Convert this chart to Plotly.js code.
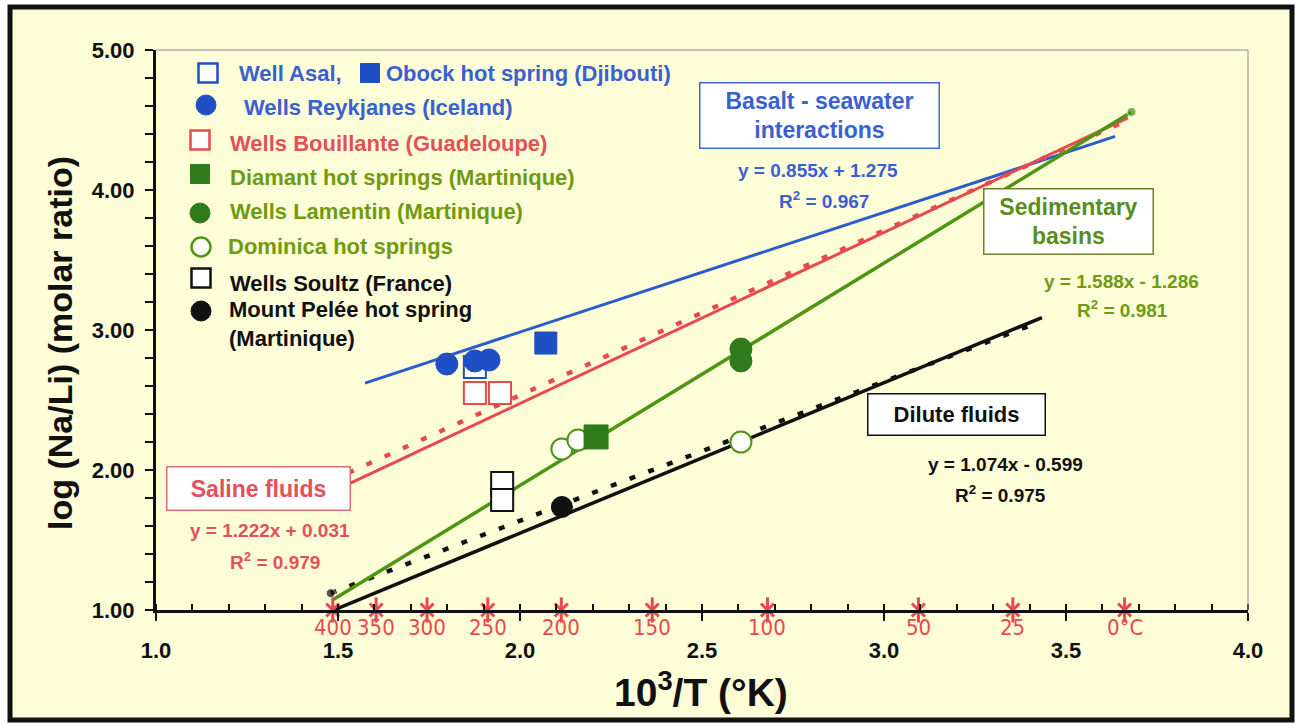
<!DOCTYPE html>
<html>
<head>
<meta charset="utf-8">
<script src="https://cdn.plot.ly/plotly-3.0.1.min.js"></script>
<style>
  html, body { margin: 0; padding: 0; background: #ffffff; }
  #chart { width: 1300px; height: 724px; }
</style>
</head>
<body>
<div id="chart"></div>
<script>
// Temperature scale shown along the 10^3/T axis (°C)
const tempC = [400, 350, 300, 250, 200, 150, 100, 50, 25, 0];
const tempLabels = ['400', '350', '300', '250', '200', '150', '100', '50', '25', '0°C'];

// Samples: 10^3/T (K^-1) and log(Na/Li)
const asalX = [1.876], asalY = [2.736];
const obockX = [2.071], obockY = [2.907];
const reykjanesX = [1.799, 1.876, 1.915], reykjanesY = [2.757, 2.779, 2.786];
const bouillanteX = [1.876, 1.945], bouillanteY = [2.55, 2.55];
const diamantX = [2.209], diamantY = [2.236];
const lamentinX = [2.607, 2.607], lamentinY = [2.864, 2.779];
const dominicaX = [2.115, 2.159, 2.607], dominicaY = [2.15, 2.214, 2.2];
const soultzX = [1.951, 1.951], soultzY = [1.907, 1.786];
const peleeX = [2.115], peleeY = [1.736];

// Regression lines: y = slope * x + intercept
const fitSlope = [0.855, 1.222, 1.588, 1.074];
const fitIntercept = [1.275, 0.031, -1.286, -0.599];
const fitR2 = [0.967, 0.979, 0.981, 0.975];
const fitXStart = [1.574, 1.505, 1.485, 1.49];
const fitXEnd = [3.635, 3.67, 3.68, 3.434];

// Na/Li geothermometer curves (dashed)
const salineThermoX = [1.478, 3.67], salineThermoY = [1.92, 4.50];
const diluteThermoX = [1.48, 3.43], diluteThermoY = [1.12, 3.06];

const axisFloor = 1.0;
const xRange = [1, 4], yRange = [1, 5];

// ---- styling ----
const FONT = 'Liberation Sans, Arial, Helvetica, sans-serif';
const NARROW = 'Liberation Sans Narrow, Arial Narrow, DejaVu Sans Condensed, sans-serif';
const BLUE = '#1f4fc4', BLUE_LINE = '#2b5ccc', BLUE_TXT = '#3a61cf';
const RED = '#e8484e', RED_TXT = '#e2505a';
const GREEN = '#2f7a1a', GREEN_LINE = '#4c9614', GREEN_TXT = '#6f9a12', GREEN_BOX = '#5c8c1c';
const BLACK = '#111111';
const BG = '#fdfdd8';

// pixel -> paper helpers for the plot area (x: 156..1248, y: 50..610)
const L = 156, R = 1248, TOP = 50, BOT = 610;
const px2x = p => (p - L) / (R - L);
const py2y = p => (BOT - p) / (BOT - TOP);
const data2x = v => (v - xRange[0]) / (xRange[1] - xRange[0]);

const tempX = tempC.map(t => 1000 / (t + 273.15));

function fitLine(i, color, width) {
  const xs = [fitXStart[i], fitXEnd[i]];
  return {
    x: xs, y: xs.map(x => fitSlope[i] * x + fitIntercept[i]),
    mode: 'lines', line: { color: color, width: width }, hoverinfo: 'skip', showlegend: false
  };
}
function eqText(i) {
  const b = fitIntercept[i];
  return 'y = ' + fitSlope[i].toFixed(3) + 'x ' + (b < 0 ? '- ' : '+ ') + Math.abs(b).toFixed(3);
}
function pts(x, y, symbol, size, fill, line, lw) {
  return {
    x: x, y: y, mode: 'markers', showlegend: false, hoverinfo: 'skip', cliponaxis: false,
    marker: { symbol: symbol, size: size, color: fill, line: { color: line, width: lw } }
  };
}

const traces = [
  fitLine(0, BLUE_LINE, 3),
  fitLine(1, RED, 3),
  { x: salineThermoX, y: salineThermoY, mode: 'lines', showlegend: false, hoverinfo: 'skip',
    line: { color: RED, width: 4.5, dash: '6px,14px' } },
  { x: diluteThermoX, y: diluteThermoY, mode: 'lines+markers', showlegend: false, hoverinfo: 'skip',
    line: { color: BLACK, width: 4.5, dash: '6px,14px' },
    marker: { color: BLACK, size: [9, 0] } },
  Object.assign(fitLine(2, GREEN_LINE, 3.5), { mode: 'lines+markers',
    marker: { color: GREEN_LINE, size: [0, 9] } }),
  fitLine(3, BLACK, 3.5),
  // temperature marks on the axis
  { x: tempX, y: tempX.map(() => axisFloor), mode: 'markers', showlegend: false, hoverinfo: 'skip',
    cliponaxis: false,
    marker: { symbol: 'x-thin-open', size: 13, color: RED, line: { color: RED, width: 3 } } },
  { x: tempX, y: tempX.map(() => axisFloor), mode: 'markers', showlegend: false, hoverinfo: 'skip',
    cliponaxis: false,
    marker: { symbol: 'line-ns-open', size: 18, color: RED, line: { color: RED, width: 3 } } },
  // samples
  pts(bouillanteX, bouillanteY, 'square', 22, '#ffffff', RED, 2),
  pts(soultzX, soultzY, 'square', 22, '#ffffff', BLACK, 2),
  pts(asalX, asalY, 'square', 22, '#ffffff', BLUE, 2),
  pts(reykjanesX, reykjanesY, 'circle', 22, BLUE, BLUE, 1),
  pts(obockX, obockY, 'square', 22, BLUE, BLUE, 1),
  pts(dominicaX, dominicaY, 'circle', 21, '#ffffff', GREEN_LINE, 2),
  pts(diamantX, diamantY, 'square', 24, GREEN, GREEN, 1),
  pts(lamentinX, lamentinY, 'circle', 22, GREEN, GREEN, 1),
  pts(peleeX, peleeY, 'circle', 21, BLACK, BLACK, 1)
];

// ---- legend drawn as shapes + labels ----
const legendRows = [
  { sym: 'sq', fill: '#ffffff', col: BLUE, cx: 208, cy: 73, s: 19, text: 'Well Asal,', tx: 237, ty: 74, tc: BLUE_TXT },
  { sym: 'sq', fill: BLUE, col: BLUE, cx: 370, cy: 73, s: 19, text: 'Obock hot spring (Djibouti)', tx: 384, ty: 74, tc: BLUE_TXT },
  { sym: 'ci', fill: BLUE, col: BLUE, cx: 206, cy: 105, s: 20, text: 'Wells Reykjanes (Iceland)', tx: 242, ty: 108, tc: BLUE_TXT },
  { sym: 'sq', fill: '#ffffff', col: RED, cx: 200, cy: 140, s: 19, text: 'Wells Bouillante (Guadeloupe)', tx: 228, ty: 143, tc: RED_TXT },
  { sym: 'sq', fill: GREEN, col: GREEN, cx: 200, cy: 174, s: 19, text: 'Diamant hot springs (Martinique)', tx: 228, ty: 177, tc: GREEN_TXT },
  { sym: 'ci', fill: GREEN, col: GREEN, cx: 200, cy: 213, s: 20, text: 'Wells Lamentin (Martinique)', tx: 228, ty: 212, tc: GREEN_TXT },
  { sym: 'ci', fill: '#ffffff', col: GREEN_LINE, cx: 201, cy: 247, s: 19, text: 'Dominica hot springs', tx: 226, ty: 247, tc: GREEN_TXT },
  { sym: 'sq', fill: '#ffffff', col: BLACK, cx: 201, cy: 278, s: 19, text: 'Wells Soultz (France)', tx: 228, ty: 283, tc: BLACK },
  { sym: 'ci', fill: BLACK, col: BLACK, cx: 201, cy: 311, s: 20, text: 'Mount Pelée hot spring', tx: 227, ty: 309, tc: BLACK },
  { sym: null, text: '(Martinique)', tx: 227, ty: 338, tc: BLACK }
];

const shapes = [
  // outer frame
  { type: 'rect', xref: 'paper', yref: 'paper', layer: 'below',
    x0: px2x(10), x1: px2x(1292), y0: py2y(720), y1: py2y(7),
    line: { color: BLACK, width: 5 }, fillcolor: BG },
  // thin top and right border of the plot area
  { type: 'line', xref: 'paper', yref: 'paper', x0: 0, x1: 1, y0: 1, y1: 1, line: { color: '#8a8a8a', width: 1 } },
  { type: 'line', xref: 'paper', yref: 'paper', x0: 1, x1: 1, y0: 0, y1: 1, line: { color: '#8a8a8a', width: 1 } }
];
legendRows.forEach(r => {
  if (!r.sym) return;
  shapes.push({
    type: r.sym === 'sq' ? 'rect' : 'circle', xref: 'paper', yref: 'paper',
    x0: px2x(r.cx - r.s / 2), x1: px2x(r.cx + r.s / 2),
    y0: py2y(r.cy + r.s / 2), y1: py2y(r.cy - r.s / 2),
    fillcolor: r.fill, line: { color: r.col, width: r.fill === '#ffffff' ? 2.5 : 1 }
  });
});

const annotations = [];
legendRows.forEach(r => annotations.push({
  xref: 'paper', yref: 'paper', x: px2x(r.tx), y: py2y(r.ty), xanchor: 'left', yanchor: 'middle',
  text: r.text, showarrow: false, font: { family: FONT, size: 22, weight: 'bold', color: r.tc }
}));

// temperature labels under the axis marks
tempX.forEach((x, i) => annotations.push({
  xref: 'paper', yref: 'paper', x: data2x(x), y: py2y(628), xanchor: 'center', yanchor: 'middle',
  text: tempLabels[i], showarrow: false, font: { family: NARROW, size: 22, color: RED }
}));

function box(cx, cy, w, h, text, color, border, size) {
  annotations.push({
    xref: 'paper', yref: 'paper', x: px2x(cx), y: py2y(cy), xanchor: 'center', yanchor: 'middle',
    text: text, showarrow: false, width: w, height: h, bgcolor: '#ffffff',
    bordercolor: border, borderwidth: 1.5, borderpad: 0,
    font: { family: FONT, size: size, weight: 'bold', color: color }
  });
}
function label(cx, cy, text, color) {
  annotations.push({
    xref: 'paper', yref: 'paper', x: px2x(cx), y: py2y(cy), xanchor: 'center', yanchor: 'middle',
    text: text, showarrow: false, font: { family: FONT, size: 19, weight: 'bold', color: color }
  });
}

box(819, 115, 238, 64, 'Basalt - seawater<br>interactions', BLUE_TXT, '#3a6bd0', 23);
label(818, 170, eqText(0), BLUE_TXT);
label(824, 200, 'R<sup>2</sup> = ' + fitR2[0].toFixed(3), BLUE_TXT);

box(258, 488, 182, 42, 'Saline fluids', RED_TXT, '#e07070', 23);
label(270, 530, eqText(1), RED_TXT);
label(275, 561, 'R<sup>2</sup> = ' + fitR2[1].toFixed(3), RED_TXT);

box(1068, 221, 168, 64, 'Sedimentary<br>basins', GREEN_BOX, '#6f7f2a', 23);
label(1121, 281, eqText(2), GREEN_TXT);
label(1122, 309, 'R<sup>2</sup> = ' + fitR2[2].toFixed(3), GREEN_TXT);

box(956, 414, 176, 40, 'Dilute fluids', BLACK, BLACK, 22);
label(1005, 464, eqText(3), BLACK);
label(1000, 494, 'R<sup>2</sup> = ' + fitR2[3].toFixed(3), BLACK);

// axis titles
annotations.push({
  xref: 'paper', yref: 'paper', x: px2x(701), y: py2y(689), xanchor: 'center', yanchor: 'middle',
  text: '10<sup>3</sup>/T (°K)', showarrow: false,
  font: { family: FONT, size: 39, weight: 'bold', color: BLACK }
});
annotations.push({
  xref: 'paper', yref: 'paper', x: px2x(60), y: py2y(343), xanchor: 'center', yanchor: 'middle',
  text: 'log (Na/Li) (molar ratio)', showarrow: false, textangle: -90,
  font: { family: FONT, size: 34, weight: 'bold', color: BLACK }
});

const tickFont = { family: FONT, size: 22, weight: 'bold', color: BLACK };

const layout = {
  width: 1300, height: 724,
  margin: { l: L, r: 1300 - R, t: TOP, b: 724 - BOT, pad: 0 },
  paper_bgcolor: '#ffffff',
  plot_bgcolor: BG,
  showlegend: false,
  xaxis: {
    range: xRange, dtick: 0.5, tick0: 1, tickformat: '.1f',
    showgrid: false, zeroline: false,
    showline: true, linecolor: BLACK, linewidth: 3,
    ticks: 'outside', ticklen: 8, tickwidth: 2.5, tickcolor: BLACK,
    ticklabelstandoff: 11,
    minor: { dtick: 0.1, ticks: 'inside', ticklen: 6, tickwidth: 2, tickcolor: BLACK },
    tickfont: tickFont
  },
  yaxis: {
    range: yRange, dtick: 1, tick0: 1, tickformat: '.2f',
    showgrid: false, zeroline: false,
    showline: true, linecolor: BLACK, linewidth: 3,
    ticks: 'outside', ticklen: 8, tickwidth: 2.5, tickcolor: BLACK,
    ticklabelstandoff: 6,
    minor: { dtick: 0.2, ticks: 'outside', ticklen: 8, tickwidth: 2, tickcolor: BLACK },
    tickfont: tickFont
  },
  // inward halves of the major ticks so they cross the axis lines
  xaxis2: { overlaying: 'x', anchor: 'y', side: 'bottom', range: xRange, dtick: 0.5, tick0: 1,
            ticks: 'inside', ticklen: 8, tickwidth: 2.5, tickcolor: BLACK,
            showticklabels: false, showline: false, showgrid: false, zeroline: false },
  yaxis2: { overlaying: 'y', anchor: 'x', side: 'left', range: yRange, dtick: 1, tick0: 1,
            ticks: 'inside', ticklen: 8, tickwidth: 2.5, tickcolor: BLACK,
            showticklabels: false, showline: false, showgrid: false, zeroline: false },
  shapes: shapes,
  annotations: annotations
};

Plotly.newPlot('chart', traces, layout, { staticPlot: true, displayModeBar: false });
</script>
</body>
</html>
